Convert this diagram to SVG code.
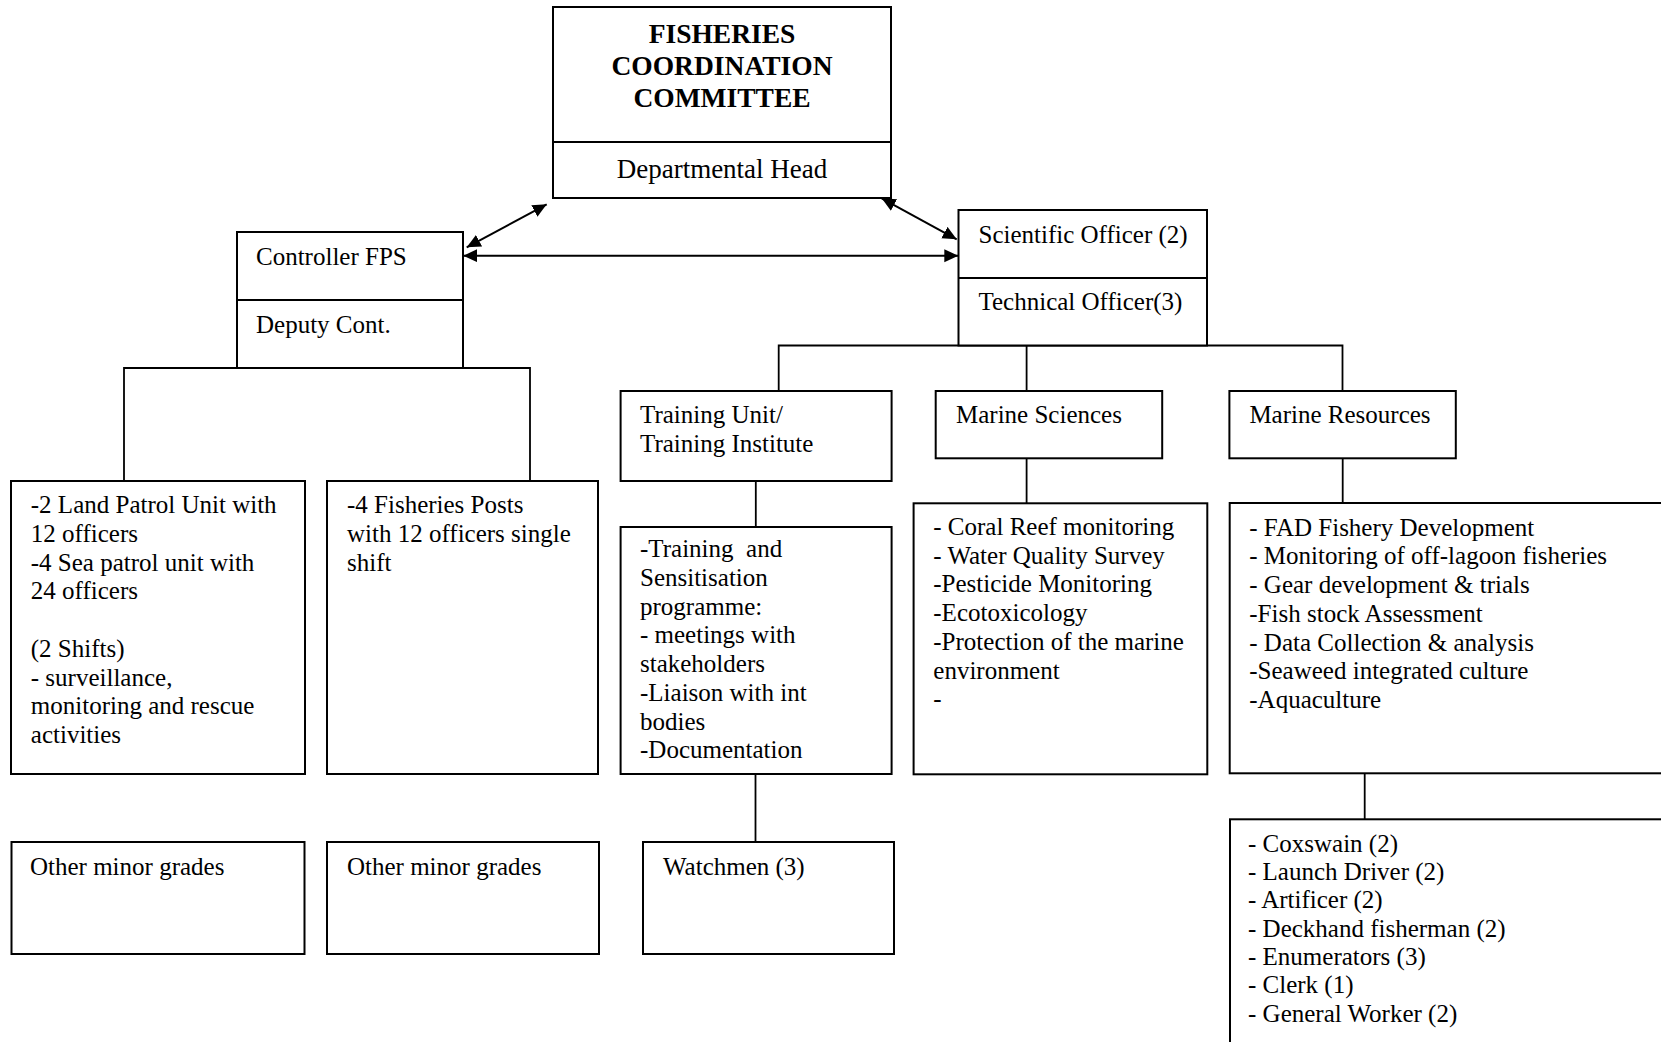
<svg xmlns="http://www.w3.org/2000/svg" width="1661" height="1042" viewBox="0 0 1661 1042">
<style>
  .box { fill: #ffffff; stroke: #000000; stroke-width: 2; }
  .div { stroke: #000000; stroke-width: 2; fill: none; }
  .conn { stroke: #000000; stroke-width: 1.8; fill: none; }
  .arr { stroke: #000000; stroke-width: 2; fill: none; marker-start: url(#ah); marker-end: url(#ah); }
  text { font-family: "Liberation Serif", "Times New Roman", serif; font-size: 25px; fill: #000000; }
  .title { font-size: 27.5px; font-weight: bold; text-anchor: middle; }
  .head { font-size: 27px; text-anchor: middle; }
</style>
<defs>
  <marker id="ah" markerUnits="userSpaceOnUse" markerWidth="16" markerHeight="14" refX="14" refY="6.5" orient="auto-start-reverse">
    <path d="M0,0 L14,6.5 L0,13 z" fill="#000000"/>
  </marker>
</defs>
<rect width="1661" height="1042" fill="#ffffff"/>

<g id="connectors">
  <line class="arr" x1="466.7" y1="247.3" x2="546.7" y2="204.3"/>
  <line class="arr" x1="463.3" y1="255.7" x2="958.3" y2="255.7"/>
  <line class="arr" x1="881.7" y1="198.3" x2="956.7" y2="239.3"/>
  <polyline class="conn" points="124,481 124,368 530,368 530,481"/>
  <polyline class="conn" points="778.7,391 778.7,345.5 1342.5,345.5 1342.5,391"/>
  <line class="conn" x1="1026.6" y1="345.5" x2="1026.6" y2="391"/>
  <line class="conn" x1="755.8" y1="481" x2="755.8" y2="527"/>
  <line class="conn" x1="755.5" y1="774" x2="755.5" y2="842"/>
  <line class="conn" x1="1026.6" y1="458.3" x2="1026.6" y2="503.3"/>
  <line class="conn" x1="1342.7" y1="458.3" x2="1342.7" y2="503"/>
  <line class="conn" x1="1364.7" y1="773.3" x2="1364.7" y2="819.3"/>
</g>

<g id="fcc">
  <rect class="box" x="553" y="7" width="338" height="191"/>
  <line class="div" x1="553" y1="142" x2="891" y2="142"/>
  <text class="title" x="722" y="42.5">FISHERIES</text>
  <text class="title" x="722" y="74.5">COORDINATION</text>
  <text class="title" x="722" y="106.5">COMMITTEE</text>
  <text class="head" x="722" y="178">Departmental Head</text>
</g>

<g id="controller">
  <rect class="box" x="237" y="232" width="226" height="136"/>
  <line class="div" x1="237" y1="300" x2="463" y2="300"/>
  <text x="256" y="265">Controller FPS</text>
  <text x="256" y="333">Deputy Cont.</text>
</g>

<g id="scientific">
  <rect class="box" x="958.5" y="210" width="248.5" height="135.5"/>
  <line class="div" x1="958.5" y1="278" x2="1207" y2="278"/>
  <text x="978.5" y="243">Scientific Officer (2)</text>
  <text x="978.5" y="310">Technical Officer(3)</text>
</g>

<g id="land-patrol">
  <rect class="box" x="11" y="481" width="294" height="293"/>
  <text x="30.8" y="513.3">-2 Land Patrol Unit with</text>
  <text x="30.8" y="542">12 officers</text>
  <text x="30.8" y="570.7">-4 Sea patrol unit with</text>
  <text x="30.8" y="599.4">24 officers</text>
  <text x="30.8" y="656.8">(2 Shifts)</text>
  <text x="30.8" y="685.5">- surveillance,</text>
  <text x="30.8" y="714.2">monitoring and rescue</text>
  <text x="30.8" y="742.9">activities</text>
</g>

<g id="fisheries-posts">
  <rect class="box" x="327" y="481" width="271" height="293"/>
  <text x="347" y="513.3">-4 Fisheries Posts</text>
  <text x="347" y="542">with 12 officers single</text>
  <text x="347" y="570.7">shift</text>
</g>

<g id="minor-1">
  <rect class="box" x="11.5" y="842" width="293" height="112"/>
  <text x="30" y="875">Other minor grades</text>
</g>

<g id="minor-2">
  <rect class="box" x="327" y="842" width="272" height="112"/>
  <text x="347" y="875">Other minor grades</text>
</g>

<g id="training">
  <rect class="box" x="620.6" y="391" width="271" height="90"/>
  <text x="640" y="423.3">Training Unit/</text>
  <text x="640" y="451.7">Training Institute</text>
</g>

<g id="training-detail">
  <rect class="box" x="620.6" y="527" width="271" height="247"/>
  <text x="640" y="557.3" xml:space="preserve">-Training  and</text>
  <text x="640" y="586">Sensitisation</text>
  <text x="640" y="614.7">programme:</text>
  <text x="640" y="643.4">- meetings with</text>
  <text x="640" y="672.1">stakeholders</text>
  <text x="640" y="700.8">-Liaison with int</text>
  <text x="640" y="729.5">bodies</text>
  <text x="640" y="758.2">-Documentation</text>
</g>

<g id="watchmen">
  <rect class="box" x="643" y="842" width="251" height="112"/>
  <text x="663" y="875">Watchmen (3)</text>
</g>

<g id="marine-sciences">
  <rect class="box" x="935.7" y="391" width="226.5" height="67.3"/>
  <text x="956" y="423">Marine Sciences</text>
</g>

<g id="marine-sciences-detail">
  <rect class="box" x="913.6" y="503.3" width="293.7" height="271"/>
  <text x="933.3" y="535">- Coral Reef monitoring</text>
  <text x="933.3" y="563.7">- Water Quality Survey</text>
  <text x="933.3" y="592.4">-Pesticide Monitoring</text>
  <text x="933.3" y="621.1">-Ecotoxicology</text>
  <text x="933.3" y="649.8">-Protection of the marine</text>
  <text x="933.3" y="678.5">environment</text>
  <text x="933.3" y="707.2">-</text>
</g>

<g id="marine-resources">
  <rect class="box" x="1229.4" y="391" width="226.4" height="67.3"/>
  <text x="1249.4" y="423">Marine Resources</text>
</g>

<g id="marine-resources-detail">
  <rect class="box" x="1229.7" y="503" width="460" height="270.3"/>
  <text x="1249.3" y="535.7">- FAD Fishery Development</text>
  <text x="1249.3" y="564.4">- Monitoring of off-lagoon fisheries</text>
  <text x="1249.3" y="593.1">- Gear development &amp; trials</text>
  <text x="1249.3" y="621.8">-Fish stock Assessment</text>
  <text x="1249.3" y="650.5">- Data Collection &amp; analysis</text>
  <text x="1249.3" y="679.2">-Seaweed integrated culture</text>
  <text x="1249.3" y="707.9">-Aquaculture</text>
</g>

<g id="marine-staff">
  <rect class="box" x="1230" y="819.3" width="460" height="260"/>
  <text x="1248" y="851.7">- Coxswain (2)</text>
  <text x="1248" y="880">- Launch Driver (2)</text>
  <text x="1248" y="908.3">- Artificer (2)</text>
  <text x="1248" y="936.7">- Deckhand fisherman (2)</text>
  <text x="1248" y="965">- Enumerators (3)</text>
  <text x="1248" y="993.3">- Clerk (1)</text>
  <text x="1248" y="1021.7">- General Worker (2)</text>
</g>
</svg>
